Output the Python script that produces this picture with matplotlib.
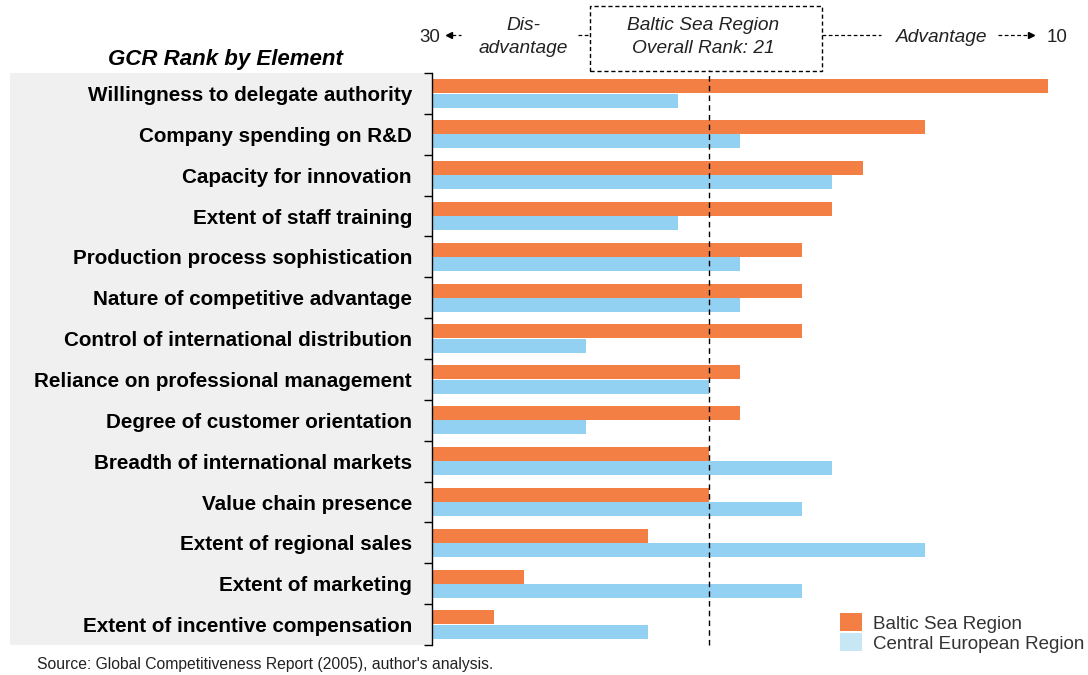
import matplotlib.pyplot as plt
from matplotlib.patches import Rectangle, Patch
import numpy as np

elements = [
    "Willingness to delegate authority",
    "Company spending on R&D",
    "Capacity for innovation",
    "Extent of staff training",
    "Production process sophistication",
    "Nature of competitive advantage",
    "Control of international distribution",
    "Reliance on professional management",
    "Degree of customer orientation",
    "Breadth of international markets",
    "Value chain presence",
    "Extent of regional sales",
    "Extent of marketing",
    "Extent of incentive compensation",
]
baltic_rank = [10, 14, 16, 17, 18, 18, 18, 20, 20, 21, 21, 23, 27, 28]
central_rank = [22, 20, 17, 22, 20, 20, 25, 21, 25, 17, 18, 14, 18, 23]
overall_rank = 21
worst_rank, best_rank = 30, 10

ORANGE = '#F47F45'
BLUE = '#93D1F3'
BLUE_LEG = '#C8E7F5'

plt.rcParams['font.family'] = ['Liberation Sans', 'DejaVu Sans']

W, H = 1088, 675
fig = plt.figure(figsize=(W / 100, H / 100), dpi=100)


def fx(px):
    return px / W


def fy(py):
    return 1 - py / H


ax = fig.add_axes([fx(432), fy(645), fx(1048) - fx(432), fy(73) - fy(645)])

# grey panel behind the labels
fig.patches.append(Rectangle((fx(10), fy(645)), fx(432) - fx(10), fy(73) - fy(645),
                             transform=fig.transFigure, facecolor='#F0F0F0',
                             edgecolor='none', zorder=-5))

y = np.arange(len(elements))
ax.barh(y - 0.175, np.array(baltic_rank) - worst_rank, left=worst_rank, height=0.34,
        color=ORANGE, zorder=2)
ax.barh(y + 0.175, np.array(central_rank) - worst_rank, left=worst_rank, height=0.34,
        color=BLUE, zorder=2)

ax.set_xlim(worst_rank, best_rank)
ax.set_ylim(len(elements) - 0.5, -0.5)
ax.axvline(overall_rank, ymin=0, ymax=1.005, color='black', linestyle=(0, (4, 3)),
           linewidth=1, clip_on=False, zorder=3)

ax.set_yticks(y)
ax.set_yticklabels(elements, fontsize=14.9, fontweight='bold')
ax.set_yticks(np.arange(len(elements) + 1) - 0.5, minor=True)
ax.tick_params(axis='y', which='major', length=0, pad=14.4)
ax.tick_params(axis='y', which='minor', length=6, width=1, direction='out')
ax.set_xticks([])
for s in ['top', 'right', 'bottom']:
    ax.spines[s].set_visible(False)
ax.spines['left'].set_linewidth(1)

fig.text(fx(225), fy(59), "GCR Rank by Element", fontsize=16, fontweight='bold',
         fontstyle='italic', ha='center', va='center')

# scale header
ty = fy(35)
tt = fy(37)
hdr = dict(fontsize=13.8, fontstyle='italic', color='#222222', ha='center', va='center')
fig.text(fx(430), tt, str(worst_rank), fontsize=13.5, ha='center', va='center',
         color='#222222')
fig.text(fx(1057), tt, str(best_rank), fontsize=13.5, ha='center', va='center',
         color='#222222')
fig.text(fx(523), fy(37), "Dis-\nadvantage", linespacing=1.4, **hdr)
fig.text(fx(942), tt, "Advantage", **hdr)
fig.text(fx(703), fy(37), "Baltic Sea Region\nOverall Rank: %d" % overall_rank,
         linespacing=1.4, **hdr)
fig.patches.append(Rectangle((fx(590), fy(71)), fx(822) - fx(590), fy(6) - fy(71),
                             transform=fig.transFigure, facecolor='none',
                             edgecolor='black', linestyle=(0, (3, 2)), linewidth=1))
dash = dict(color='black', linewidth=0.9, linestyle=(0, (3, 2)))
fig.add_artist(plt.Line2D([fx(452), fx(461)], [ty, ty], transform=fig.transFigure, **dash))
fig.add_artist(plt.Line2D([fx(578), fx(590)], [ty, ty], transform=fig.transFigure, **dash))
fig.add_artist(plt.Line2D([fx(822), fx(881)], [ty, ty], transform=fig.transFigure, **dash))
fig.add_artist(plt.Line2D([fx(998), fx(1030)], [ty, ty], transform=fig.transFigure, **dash))
fig.add_artist(plt.Line2D([fx(449)], [ty], transform=fig.transFigure, marker='<',
                          markersize=5, color='black'))
fig.add_artist(plt.Line2D([fx(1031)], [ty], transform=fig.transFigure, marker='>',
                          markersize=5, color='black'))

handles = [Patch(facecolor=ORANGE, edgecolor='none', label='Baltic Sea Region'),
           Patch(facecolor=BLUE_LEG, edgecolor='none', label='Central European Region')]
fig.legend(handles=handles, loc='center left', bbox_to_anchor=(fx(840), fy(633)),
           frameon=False, fontsize=13.5, handlelength=1.17, handleheight=1.1,
           handletextpad=0.6, labelspacing=0.05, borderpad=0, borderaxespad=0,
           labelcolor='#333333')

fig.text(fx(37), fy(665), "Source: Global Competitiveness Report (2005), author's analysis.",
         fontsize=11.3, ha='left', va='center', color='#222222')

fig.savefig('out.png', dpi=100)
